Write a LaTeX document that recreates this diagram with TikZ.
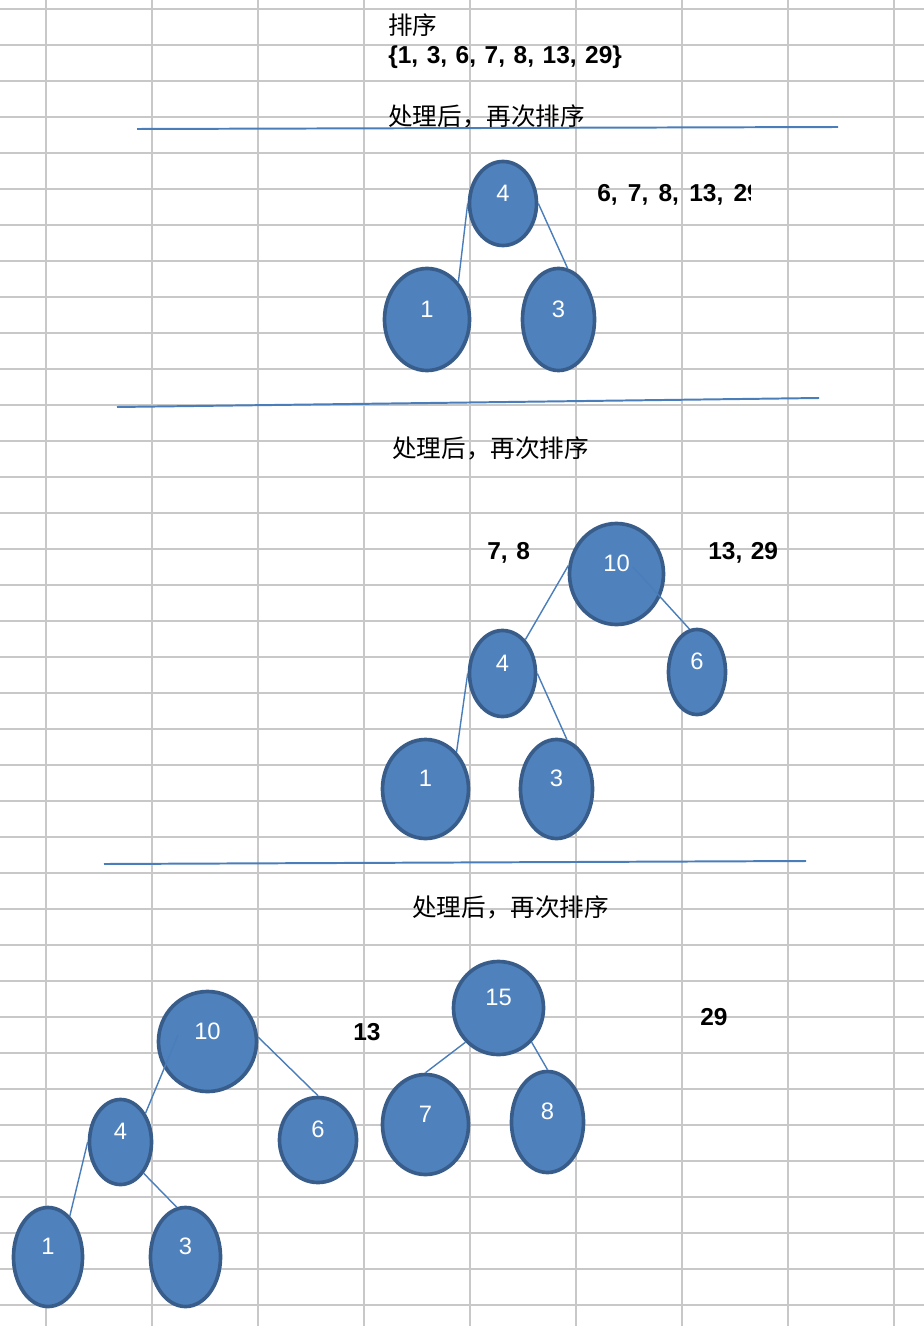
\documentclass[tikz,border=0pt]{standalone}
\usepackage{fontspec}
\setmainfont{Liberation Sans}
\newfontfamily\cjk{Noto Sans CJK SC}
\usetikzlibrary{shapes.geometric}
\definecolor{gridgray}{HTML}{C8C8C8}
\definecolor{ballfill}{HTML}{4F81BD}
\definecolor{balledge}{HTML}{385D8A}
\definecolor{linkblue}{HTML}{4A7EBB}

\begin{document}
\begin{tikzpicture}[x=0.025cm, y=-0.025cm,
    ball/.style 2 args={ellipse, draw=balledge, fill=ballfill, line width=2.6pt,
        inner sep=0pt, minimum width=#1, minimum height=#2, text=white,
        font=\fontsize{16.9}{18}\selectfont, text height=6pt, text depth=9pt},
    link/.style={draw=linkblue, line width=1pt},
    rule/.style={draw=linkblue, line width=1.4pt},
    tag/.style={anchor=west, inner sep=0pt, font=\fontsize{17.4}{20}\selectfont\bfseries,
        execute at begin node={\spaceskip=0.35em\relax}},
    cn/.style={anchor=west, inner sep=0pt, font=\fontsize{17.5}{20}\selectfont\cjk}]
    \useasboundingbox (0,0) rectangle (924,1326);

    \foreach \gx in {0,...,8}
        \draw[gridgray, line width=1.3pt] (46+106*\gx,0) -- (46+106*\gx,1326);
    \foreach \gy in {0,...,36}
        \draw[gridgray, line width=1.3pt] (0,9+36*\gy) -- (924,9+36*\gy);

    \node[cn] (sort_title) at (388,25) {排序};
    \node[tag] (sort_keys) at (388,57) {\{1, 3, 6, 7, 8, 13, 29\}};
    \node[cn] (step_one) at (388,116) {处理后，再次排序};
    \draw[rule] (137,129) -- (838,127);

    \node[ball={1.675cm}{2.1cm}] (t1_four) at (503,203.5) {4};
    \node[ball={2.125cm}{2.55cm}] (t1_one) at (427,319.5) {1};
    \node[ball={1.8cm}{2.55cm}] (t1_three) at (558.5,319.5) {3};
    \begin{scope}
        \clip (590,170) rectangle (750,225);
        \node[tag, execute at begin node={\spaceskip=0.42em\relax}] (t1_rest)
            at (597,195) {6, 7, 8, 13, 29};
    \end{scope}

    \path[link]
        (t1_four.west) edge (t1_one.50)
        (t1_four.east) edge (t1_three.80);

    \draw[rule] (117,407) -- (819,398);
    \node[cn] (step_two) at (392,448) {处理后，再次排序};

    \node[tag] (t2_left) at (487,553) {7, 8};
    \node[tag] (t2_right) at (708,553) {13, 29};
    \node[ball={2.35cm}{2.525cm}] (t2_ten) at (616.5,574) {10};
    \node[ball={1.65cm}{2.15cm}] (t2_four) at (502.5,673.5) {4};
    \node[ball={1.425cm}{2.125cm}] (t2_six) at (697,672) {6};
    \node[ball={2.15cm}{2.475cm}] (t2_one) at (425.5,789) {1};
    \node[ball={1.8cm}{2.475cm}] (t2_three) at (556.5,789) {3};

    \path[link]
        (t2_ten.170) edge (t2_four.56)
        ([shift={(16.5,-7)}]t2_ten.center) edge (t2_six.100)
        (t2_four.west) edge (t2_one.50)
        (t2_four.east) edge (t2_three.78);

    \draw[rule] (104,864) -- (806,861);
    \node[cn] (step_three) at (412,907) {处理后，再次排序};

    \node[ball={2.45cm}{2.5cm}] (t3_ten) at (207.5,1041.5) {10};
    \node[ball={1.55cm}{2.125cm}] (t3_four) at (120.5,1142) {4};
    \node[ball={1.925cm}{2.125cm}] (t3_six) at (318,1140) {6};
    \node[ball={1.725cm}{2.475cm}] (t3_one) at (48,1257) {1};
    \node[ball={1.75cm}{2.475cm}] (t3_three) at (185.5,1257) {3};
    \node[tag] (t3_mid) at (353,1032) {13};
    \node[ball={2.25cm}{2.325cm}] (t3_fifteen) at (498.5,1008) {15};
    \node[ball={2.15cm}{2.5cm}] (t3_seven) at (425.5,1124.5) {7};
    \node[ball={1.8cm}{2.525cm}] (t3_eight) at (547.5,1122) {8};
    \node[tag] (t3_right) at (700,1017) {29};

    \path[link]
        ([shift={(-29.5,-6.5)}]t3_ten.center) edge (t3_four.49)
        (t3_ten.5) edge (t3_six.north)
        (t3_four.west) edge (t3_one.62)
        (t3_four.south east) edge (t3_three.100)
        (t3_fifteen.226) edge (t3_seven.north)
        (t3_fifteen.south east) edge (t3_eight.north);
\end{tikzpicture}
\end{document}
